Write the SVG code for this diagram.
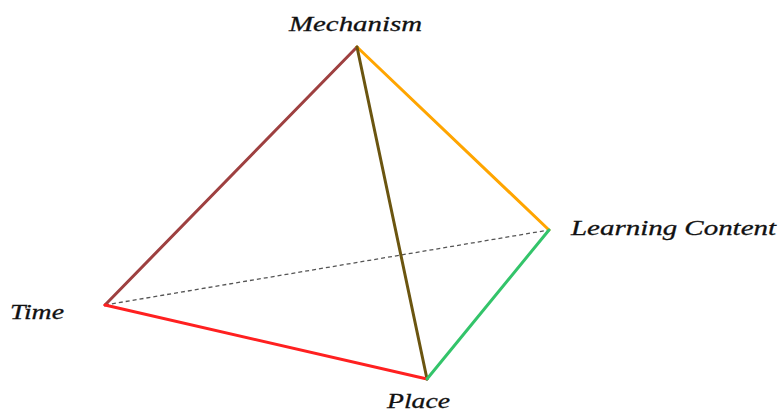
<svg xmlns="http://www.w3.org/2000/svg" width="779" height="414" viewBox="0 0 779 414">
<style>
.lbl{font-family:"Liberation Serif","Times New Roman",serif;font-style:italic;font-size:22px;fill:#111;stroke:#111;stroke-width:0.3}
.e{stroke-width:3;stroke-linecap:round;fill:none}
</style>
<rect width="779" height="414" fill="#fff"/>
<g id="connectors">
<line x1="105" y1="305" x2="549" y2="230" stroke="#555" stroke-width="1.3" stroke-dasharray="4,3"/>
<line class="e" x1="105" y1="305" x2="357" y2="47" stroke="#9E4040"/>
<line class="e" x1="357" y1="47" x2="549" y2="230" stroke="#FFA500"/>
<line class="e" x1="357" y1="47" x2="427" y2="379" stroke="#6B5510"/>
<line class="e" x1="105" y1="305" x2="427" y2="379" stroke="#FF2020"/>
<line class="e" x1="427" y1="379" x2="549" y2="230" stroke="#33C46A"/>
</g>
<g id="mechanism"><text class="lbl" x="289" y="31" textLength="133" lengthAdjust="spacingAndGlyphs">Mechanism</text></g>
<g id="learning-content"><text class="lbl" x="571" y="235" textLength="205" lengthAdjust="spacingAndGlyphs">Learning Content</text></g>
<g id="time"><text class="lbl" x="10" y="319" textLength="54" lengthAdjust="spacingAndGlyphs">Time</text></g>
<g id="place"><text class="lbl" x="387" y="408" textLength="63" lengthAdjust="spacingAndGlyphs">Place</text></g>
</svg>
